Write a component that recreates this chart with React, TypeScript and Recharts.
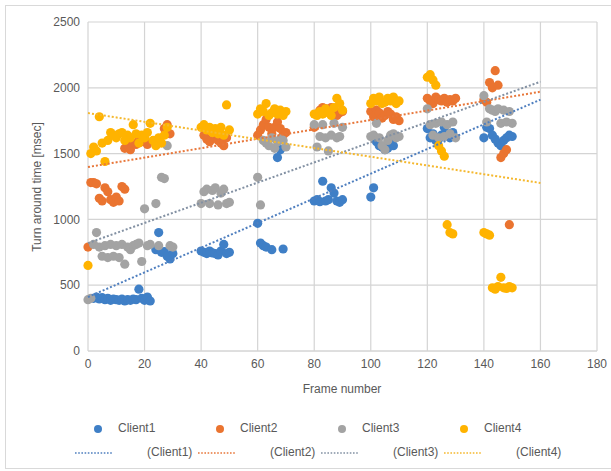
import { CartesianGrid, Scatter, ScatterChart, XAxis, YAxis } from "recharts"

const frameTicks = [0, 20, 40, 60, 80, 100, 120, 140, 160, 180]
const timeTicks = [0, 500, 1000, 1500, 2000, 2500]

const clientNames = ["Client1", "Client2", "Client3", "Client4"]
const clientColors = ["#3F7FC6", "#EA7430", "#A3A3A3", "#FFB300"]
const trendColors = ["#4F7FBF", "#E8773A", "#8391A3", "#F5B82E"]

// [frame, msec]
const client1 = [
  [2, 400], [3, 410], [4, 395], [5, 405], [6, 390], [7, 400], [8, 385], [9, 395], [10, 390], [11, 385],
  [12, 395], [13, 380], [14, 390], [15, 385], [16, 395], [17, 390], [18, 470], [19, 400], [20, 385], [21, 410], [22, 380],
  [24, 770], [25, 900], [26, 750], [27, 755], [28, 720], [29, 700], [30, 740],
  [40, 760], [41, 750], [42, 740], [43, 760], [44, 745], [45, 740], [46, 730], [47, 760], [48, 810], [49, 740], [50, 750],
  [60, 970], [61, 820], [62, 800], [63, 790], [65, 770], [67, 1470], [68, 1530], [69, 775],
  [80, 1140], [81, 1150], [82, 1135], [83, 1290], [84, 1140], [85, 1150], [86, 1240], [87, 1200], [88, 1140], [89, 1130], [90, 1150],
  [100, 1170], [101, 1240], [102, 1590], [103, 1560], [104, 1550], [105, 1530], [106, 1540], [107, 1580], [108, 1560],
  [120, 1690], [121, 1620], [122, 1650], [123, 1600], [124, 1610], [125, 1640], [126, 1700], [127, 1650], [128, 1620], [129, 1660],
  [140, 1620], [141, 1700], [142, 1690], [143, 1640], [144, 1610], [145, 1580], [146, 1560], [147, 1600], [148, 1620], [149, 1640], [150, 1630],
]

const client2 = [
  [0, 790], [1, 1280], [2, 1280], [3, 1270], [4, 1160], [5, 1140], [6, 1240], [7, 1210], [8, 1150], [9, 1130],
  [10, 1170], [11, 1140], [12, 1250], [13, 1230],
  [13, 1540], [14, 1560], [15, 1530], [16, 1580], [17, 1570], [18, 1600], [19, 1590], [20, 1620], [21, 1570], [27, 1690], [28, 1720], [29, 1650],
  [41, 1640], [42, 1610], [43, 1590], [44, 1660], [45, 1620], [46, 1600], [47, 1580], [48, 1560], [49, 1620],
  [60, 1640], [61, 1680], [62, 1720], [63, 1760], [64, 1700], [65, 1650], [66, 1700], [67, 1740], [68, 1690], [69, 1640], [70, 1660],
  [80, 1700], [81, 1800], [82, 1830], [83, 1850], [84, 1840], [85, 1820], [86, 1850], [87, 1830], [88, 1790], [89, 1810], [90, 1820],
  [100, 1820], [101, 1780], [102, 1830], [103, 1810], [104, 1770], [105, 1790], [106, 1820], [107, 1800], [108, 1760], [109, 1780], [110, 1750],
  [120, 1920], [121, 1900], [122, 1880], [123, 1930], [124, 1910], [125, 1900], [126, 1920], [127, 1890], [128, 1910], [129, 1900], [130, 1920],
  [140, 1910], [141, 1890], [142, 2040], [143, 2000], [144, 2130], [145, 2020], [146, 1470], [147, 1500], [148, 1530], [149, 960],
]

const client3 = [
  [0, 390], [1, 400], [2, 810], [3, 900], [4, 790], [5, 720], [6, 800], [7, 710], [8, 810], [9, 720],
  [10, 800], [11, 710], [12, 810], [13, 660], [14, 790], [15, 770], [16, 800], [17, 810], [18, 820], [19, 680],
  [20, 1080], [21, 800], [22, 810], [24, 1120], [25, 800], [26, 1320], [27, 1310], [28, 1560], [29, 800], [30, 790],
  [40, 1120], [41, 1210], [42, 1230], [43, 1120], [44, 1220], [45, 1240], [46, 1110], [47, 1200], [48, 1230], [49, 1120], [50, 1130],
  [60, 1320], [61, 1110], [62, 1600], [63, 1580], [64, 1560], [65, 1620], [66, 1540], [67, 1590], [68, 1610], [69, 1600], [70, 1550],
  [80, 1720], [81, 1550], [82, 1630], [83, 1720], [84, 1620], [85, 1520], [86, 1640], [87, 1730], [88, 1620], [89, 1630], [90, 1700],
  [100, 1630], [101, 1640], [102, 1730], [103, 1620], [104, 1560], [105, 1530], [106, 1600], [107, 1640], [108, 1650], [109, 1620], [110, 1630],
  [120, 1840], [121, 1720], [122, 1640], [123, 1730], [124, 1620], [125, 1740], [126, 1630], [127, 1720], [128, 1650], [129, 1740], [130, 1620],
  [140, 1940], [141, 1740], [142, 1840], [143, 1830], [144, 1820], [145, 1840], [146, 1730], [147, 1830], [148, 1740], [149, 1820], [150, 1730],
]

const client4 = [
  [0, 650], [1, 1500], [2, 1550], [3, 1520], [4, 1780], [5, 1580], [6, 1440], [7, 1600], [8, 1660], [9, 1640],
  [10, 1620], [11, 1650], [12, 1660], [13, 1600], [14, 1640], [15, 1620], [16, 1720], [17, 1650], [18, 1580], [19, 1640],
  [20, 1620], [21, 1660], [22, 1730], [23, 1600], [24, 1560], [25, 1620], [26, 1580], [27, 1640], [28, 1700],
  [40, 1700], [41, 1720], [42, 1680], [43, 1700], [44, 1660], [45, 1690], [46, 1650], [47, 1700], [48, 1640], [49, 1870], [50, 1680],
  [60, 1800], [61, 1840], [62, 1820], [63, 1880], [64, 1790], [65, 1810], [66, 1840], [67, 1800], [68, 1830], [69, 1790], [70, 1820],
  [80, 1800], [81, 1790], [82, 1820], [83, 1800], [84, 1840], [85, 1810], [86, 1790], [87, 1850], [88, 1920], [89, 1880], [90, 1830],
  [100, 1880], [101, 1920], [102, 1900], [103, 1930], [104, 1880], [105, 1890], [106, 1920], [107, 1900], [108, 1930], [109, 1880], [110, 1900],
  [120, 2080], [121, 2100], [122, 2060], [123, 2020], [124, 1560], [125, 1520], [126, 1480], [127, 960], [128, 900], [129, 890],
  [140, 900], [141, 890], [142, 880], [143, 480], [144, 470], [145, 490], [146, 560], [147, 480], [148, 475], [149, 490], [150, 480],
]

// linear trendline end points (frame 0 and 160)
const trendFrames = [0, 160]
const trend1 = [410, 1910]
const trend2 = [1398, 1970]
const trend3 = [820, 2046]
const trend4 = [1808, 1277]

const toPoints = (rows: number[][]) => rows.map(([x, y]) => ({ x, y }))
const series = [client1, client2, client3, client4].map(toPoints)
const trends = [trend1, trend2, trend3, trend4].map((t) =>
  trendFrames.map((x, i) => ({ x, y: t[i] }))
)

const textColor = "#595959"
const font = "'Liberation Sans', Arial, sans-serif"

const dot = (color: string) => (props: any) =>
  <circle cx={props.cx} cy={props.cy} r={4.6} fill={color} />

const noDot = () => <g />

function Legend() {
  const row1 = [98, 220, 342, 464]
  const row2 = [75, 198, 321, 444]
  return (
    <>
      {clientNames.map((name, i) => (
        <div key={name}>
          <svg style={{ position: "absolute", left: row1[i] - 5, top: 424 }} width={10} height={10}>
            <circle cx={5} cy={5} r={4} fill={clientColors[i]} />
          </svg>
          <span style={{ position: "absolute", left: row1[i] + 20, top: 421, fontSize: 12, color: textColor }}>
            {name}
          </span>
          <svg style={{ position: "absolute", left: row2[i], top: 451 }} width={38} height={4}>
            <line x1={0} y1={2} x2={38} y2={2} stroke={trendColors[i]} strokeWidth={1.6} strokeDasharray="1.6 1.6" />
          </svg>
          <span style={{ position: "absolute", left: row2[i] + 72, top: 445, fontSize: 12, color: textColor }}>
            ({name})
          </span>
        </div>
      ))}
    </>
  )
}

export default function App() {
  return (
    <div
      style={{
        position: "absolute",
        left: 0,
        top: 0,
        width: 611,
        height: 471,
        overflow: "hidden",
        background: "#fff",
        fontFamily: font,
      }}
    >
      <div style={{ position: "absolute", left: 5, top: 5, width: 640, height: 462, border: "1px solid #d9d9d9" }} />
      <div style={{ position: "absolute", left: 0, top: 0 }}>
        <ScatterChart width={611} height={471} margin={{ top: 22, right: 14, bottom: 100, left: 38 }}>
          <CartesianGrid stroke="#d4d4d4" strokeWidth={1.2} />
          <XAxis
            type="number"
            dataKey="x"
            domain={[0, 180]}
            ticks={frameTicks}
            tickLine={false}
            axisLine={{ stroke: "#d4d4d4" }}
            tick={{ fill: textColor, fontSize: 12, fontFamily: font }}
            height={20}
          />
          <YAxis
            type="number"
            dataKey="y"
            domain={[0, 2500]}
            ticks={timeTicks}
            tickLine={false}
            axisLine={false}
            tick={{ fill: textColor, fontSize: 12, fontFamily: font }}
            width={50}
          />
          {series.map((data, i) => (
            <Scatter
              key={clientNames[i]}
              name={clientNames[i]}
              data={data}
              fill={clientColors[i]}
              shape={dot(clientColors[i])}
              isAnimationActive={false}
            />
          ))}
          {trends.map((data, i) => (
            <Scatter
              key={"trend" + i}
              name={"(" + clientNames[i] + ")"}
              data={data}
              fill={trendColors[i]}
              line={{ stroke: trendColors[i], strokeWidth: 2, strokeDasharray: "2 2" }}
              shape={noDot}
              legendType="none"
              isAnimationActive={false}
            />
          ))}
        </ScatterChart>
      </div>
      <div
        style={{
          position: "absolute",
          left: 37,
          top: 187,
          transform: "translate(-50%, -50%) rotate(-90deg)",
          whiteSpace: "nowrap",
          fontSize: 12,
          color: textColor,
        }}
      >
        Turn around time [msec]
      </div>
      <div
        style={{
          position: "absolute",
          left: 342,
          top: 389,
          transform: "translate(-50%, -50%)",
          whiteSpace: "nowrap",
          fontSize: 12,
          color: textColor,
        }}
      >
        Frame number
      </div>
      <Legend />
    </div>
  )
}
